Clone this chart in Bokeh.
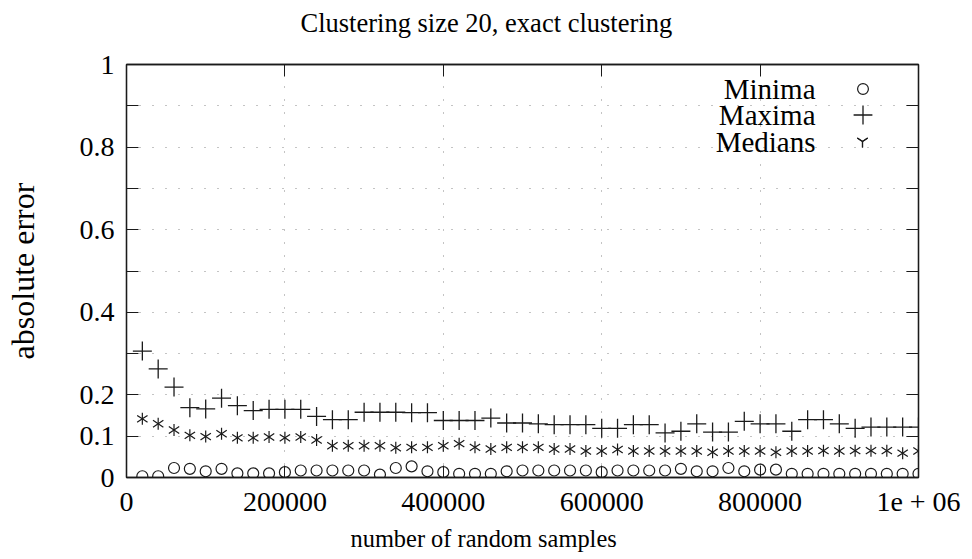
from bokeh.plotting import figure
from bokeh.models import (Range1d, FixedTicker, LinearAxis, Legend, LegendItem, Label, Title)
from bokeh.embed import file_html
from bokeh.resources import INLINE

# ---------------- data ----------------
samples = [20000, 40000, 60000, 80000, 100000, 120000, 140000, 160000, 180000, 200000,
           220000, 240000, 260000, 280000, 300000, 320000, 340000, 360000, 380000, 400000,
           420000, 440000, 460000, 480000, 500000, 520000, 540000, 560000, 580000, 600000,
           620000, 640000, 660000, 680000, 700000, 720000, 740000, 760000, 780000, 800000,
           820000, 840000, 860000, 880000, 900000, 920000, 940000, 960000, 980000, 1000000]

minima = [0.003, 0.003, 0.023, 0.021, 0.015, 0.021, 0.010, 0.010, 0.010, 0.013,
          0.017, 0.017, 0.017, 0.017, 0.017, 0.007, 0.023, 0.027, 0.015, 0.013,
          0.009, 0.009, 0.009, 0.015, 0.017, 0.017, 0.017, 0.017, 0.017, 0.013,
          0.017, 0.017, 0.017, 0.017, 0.021, 0.015, 0.015, 0.023, 0.015, 0.019,
          0.019, 0.009, 0.009, 0.009, 0.009, 0.009, 0.009, 0.009, 0.009, 0.009]

maxima = [0.306, 0.263, 0.219, 0.169, 0.166, 0.192, 0.174, 0.162, 0.165, 0.165,
          0.165, 0.148, 0.140, 0.140, 0.158, 0.158, 0.158, 0.157, 0.157, 0.138,
          0.138, 0.138, 0.144, 0.132, 0.132, 0.130, 0.128, 0.128, 0.128, 0.119,
          0.119, 0.128, 0.128, 0.108, 0.112, 0.130, 0.110, 0.110, 0.136, 0.130,
          0.130, 0.112, 0.140, 0.140, 0.130, 0.119, 0.122, 0.122, 0.122, 0.122]

medians = [0.142, 0.130, 0.115, 0.102, 0.099, 0.106, 0.096, 0.096, 0.098, 0.096,
           0.098, 0.091, 0.077, 0.077, 0.077, 0.077, 0.072, 0.073, 0.073, 0.077,
           0.082, 0.073, 0.069, 0.073, 0.073, 0.073, 0.069, 0.069, 0.064, 0.064,
           0.068, 0.064, 0.064, 0.064, 0.064, 0.064, 0.061, 0.064, 0.064, 0.064,
           0.061, 0.064, 0.064, 0.065, 0.064, 0.065, 0.065, 0.065, 0.059, 0.064]

x_ticks = [0, 200000, 400000, 600000, 800000, 1000000]
x_tick_labels = ["0", "200000", "400000", "600000", "800000", "1e + 06"]
y_ticks = [0, 0.1, 0.2, 0.3, 0.4, 0.5, 0.6, 0.7, 0.8, 0.9, 1]
y_tick_labels = ["0", "0.1", "0.2", "", "0.4", "", "0.6", "", "0.8", "", "1"]

title_text = "Clustering size 20, exact clustering"
x_title = "number of random samples"
y_title = "absolute error"
series_names = ["Minima", "Maxima", "Medians"]

# ---------------- figure ----------------
FONT = "Liberation Serif"
INK = "#1a1a1a"

p = figure(width=964, height=559, output_backend="svg", toolbar_location=None,
           x_range=Range1d(0, 1000000), y_range=Range1d(0, 1),
           min_border_left=126, min_border_right=46, min_border_top=64, min_border_bottom=82)
p.outline_line_color = INK
p.outline_line_width = 1.3
p.background_fill_color = "white"
p.border_fill_color = "white"

xt = FixedTicker(ticks=x_ticks, minor_ticks=[])
yt = FixedTicker(ticks=y_ticks, minor_ticks=[])
xover = {t: l for t, l in zip(x_ticks, x_tick_labels)}
yover = {t: l for t, l in zip(y_ticks, y_tick_labels)}
xblank = {t: "" for t in x_ticks}
yblank = {t: "" for t in y_ticks}

def style_axis(ax, ticker, over, size="28px"):
    ax.ticker = ticker
    ax.major_label_overrides = over
    ax.axis_line_color = INK
    ax.axis_line_width = 1.3
    ax.major_tick_line_color = INK
    ax.major_tick_line_width = 1
    ax.major_tick_in = 12
    ax.major_tick_out = 0
    ax.minor_tick_line_color = None
    ax.major_label_text_font = FONT
    ax.major_label_text_color = "black"
    ax.major_label_text_font_size = size

style_axis(p.xaxis[0], xt, xover)
p.xaxis[0].major_label_standoff = 8
style_axis(p.yaxis[0], yt, yover)
p.yaxis[0].major_label_standoff = 12
p.yaxis[0].axis_label = y_title
p.yaxis[0].axis_label_text_font = FONT
p.yaxis[0].axis_label_text_font_size = "32px"
p.yaxis[0].axis_label_text_font_style = "normal"
p.yaxis[0].axis_label_standoff = 36
p.yaxis[0].axis_label_text_color = "black"

top_ax = LinearAxis()
style_axis(top_ax, xt, xblank, size="1px")
top_ax.major_label_standoff = 0
p.add_layout(top_ax, "above")
right_ax = LinearAxis()
style_axis(right_ax, yt, yblank, size="1px")
right_ax.major_label_standoff = 0
p.add_layout(right_ax, "right")

for g in (p.xgrid[0], p.ygrid[0]):
    g.grid_line_color = "#888888"
    g.grid_line_dash = "1 12"
    g.grid_line_width = 1
p.xgrid[0].ticker = xt
p.ygrid[0].ticker = yt

# ---------------- series ----------------
r_min = p.scatter(samples, minima, marker="circle", size=11, fill_color=None,
                  line_color=INK, line_width=1.2)
r_max = p.scatter(samples, maxima, marker="cross", size=19,
                  line_color=INK, line_width=1.3)
r_med1 = p.scatter(samples, medians, marker="y", size=12,
                   line_color=INK, line_width=1.2)
r_med2 = p.scatter(samples, medians, marker="y", size=12, angle=3.14159265,
                   line_color=INK, line_width=1.2)

# legend: one small legend per entry so each sample keeps its own size;
# gnuplot style puts the label on the left, drawn as right-aligned labels
FRAME_H = 413
def key(renderers, G, cx, cy_top):
    lg = Legend(items=[LegendItem(label="", renderers=renderers)],
                location=(cx - G / 2, FRAME_H - cy_top - G / 2),
                glyph_width=G, glyph_height=G, label_width=0, label_height=1,
                label_standoff=0, label_text_font_size="1px", spacing=0,
                padding=0, margin=0, background_fill_alpha=0, border_line_color=None)
    p.add_layout(lg, "center")

key([r_min], 27, 736, 24)
key([r_max], 47, 736, 50)
key([r_med1, r_med2], 30, 736, 77)

for name, base in zip(series_names, [389, 363, 336]):
    p.add_layout(Label(x=689, y=base, x_units="screen", y_units="screen", text=name,
                       text_font=FONT, text_font_size="29px", text_align="right",
                       text_baseline="alphabetic", text_color="black"))

# ---------------- titles ----------------
t_top = Title(text=title_text, align="left", offset=174, standoff=0,
              padding=dict(left=0, right=0, top=0, bottom=27),
              text_font=FONT, text_font_size="26.5px", text_font_style="normal",
              text_color="black")
p.add_layout(t_top, "above")
t_bot = Title(text=x_title, align="left", offset=224, standoff=7,
              text_font=FONT, text_font_size="24.4px", text_font_style="normal",
              text_color="black")
p.add_layout(t_bot, "below")

open("out.html", "w").write(file_html(p, INLINE))
